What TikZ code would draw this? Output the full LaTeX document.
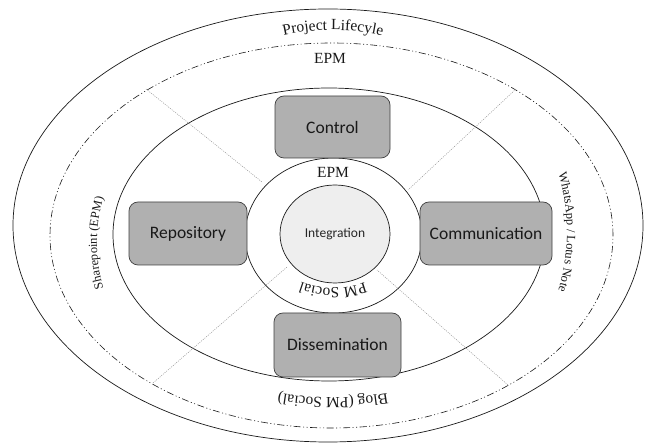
\documentclass[tikz,border=0pt]{standalone}
\usepackage{fontspec}
\setmainfont{Liberation Serif}
\newfontfamily\boxfont{Carlito}
\usetikzlibrary{shapes.geometric,decorations.text}
\definecolor{boxgray}{RGB}{176,176,176}
\definecolor{integ}{RGB}{238,238,238}
\definecolor{inkc}{RGB}{25,25,25}
\tikzset{
  ringline/.style={draw=inkc, line width=0.7pt},
  dashdotline/.style={draw=inkc, line width=0.6pt, dash pattern=on 7pt off 2.5pt on 1pt off 2.5pt on 1pt off 2.5pt},
  spoke/.style={draw=gray!85, line width=0.5pt, dash pattern=on 1pt off 1.2pt},
  boxnode/.style={draw=black!75, line width=0.7pt, fill=boxgray, rounded corners=9pt, font=\boxfont\fontsize{17.5}{20}\selectfont, text=black!90},
  curvetext/.style={decorate, decoration={text along path, text align=center, text color=inkc}},
}
\newcommand{\bigser}{\fontsize{15.5}{18}\selectfont}
\newcommand{\smallser}{\fontsize{12.5}{14}\selectfont}
\begin{document}
\begin{tikzpicture}[x=1pt,y=1pt]
\useasboundingbox (0,0) rectangle (653,447);
% ellipses
\node[ellipse, ringline, minimum width=630pt, minimum height=433pt, inner sep=0pt] (outer) at (328,221.5) {};
\node[ellipse, dashdotline, minimum width=563pt, minimum height=385pt, inner sep=0pt] (epmring) at (331.5,211.5) {};
\node[ellipse, ringline, minimum width=432pt, minimum height=293pt, inner sep=0pt] (middle) at (329,212.5) {};
% spokes
\coordinate (tlo) at (146,358); \coordinate (tli) at (262,265);
\coordinate (tro) at (516,358); \coordinate (tri) at (408,257);
\coordinate (blo) at (153,64);  \coordinate (bli) at (287,180);
\coordinate (bro) at (508,62);  \coordinate (bri) at (377,177);
\draw[spoke] (tlo) -- (tli);
\draw[spoke] (tro) -- (tri);
\draw[spoke] (blo) -- (bli);
\draw[spoke] (bro) -- (bri);
% inner ring and integration
\node[ellipse, ringline, minimum width=177pt, minimum height=155pt, inner sep=0pt] (ring) at (333.5,211.5) {};
\node[ellipse, ringline, fill=integ, minimum width=110pt, minimum height=98pt, inner sep=0pt, font=\boxfont\fontsize{13.5}{16}\selectfont, text=black!85] (integration) at (335,213) {Integration};
% boxes
\node[boxnode, minimum width=115pt, minimum height=62pt] (control) at (332.5,320) {Control};
\node[boxnode, minimum width=118pt, minimum height=63pt] (repository) at (188,213.5) {Repository};
\node[boxnode, minimum width=132pt, minimum height=63pt] (communication) at (486,213.5) {Communication};
\node[boxnode, minimum width=127pt, minimum height=64pt] (dissemination) at (337.5,102) {Dissemination};
% straight labels
\node[font=\bigser, text=inkc] (epmtop) at (330,389) {EPM};
\node[font=\bigser, text=inkc] (epminner) at (333,275) {EPM};
% curved labels
\path[curvetext, decoration={text={|\bigser|Project Lifecyle}}, shift={(333,197)}] (125:220) arc[start angle=125, end angle=55, radius=220];
\path[curvetext, decoration={text={|\bigser|Blog (PM Social)}}, shift={(333,369)}] (285:320) arc[start angle=285, end angle=255, radius=320];
\path[curvetext, decoration={text={|\bigser|PM Social}}, shift={(333,252)}] (305:93) arc[start angle=305, end angle=235, radius=93];
\path[curvetext, decoration={text={|\smallser|Sharepoint (EPM)}}, shift={(258,204)}] (205:161) arc[start angle=205, end angle=155, radius=161];
\path[curvetext, decoration={text={|\smallser|WhatsApp  / Lotus Note}}, shift={(367,215)}] (22:200) arc[start angle=22, end angle=-22, radius=200];
\end{tikzpicture}
\end{document}
